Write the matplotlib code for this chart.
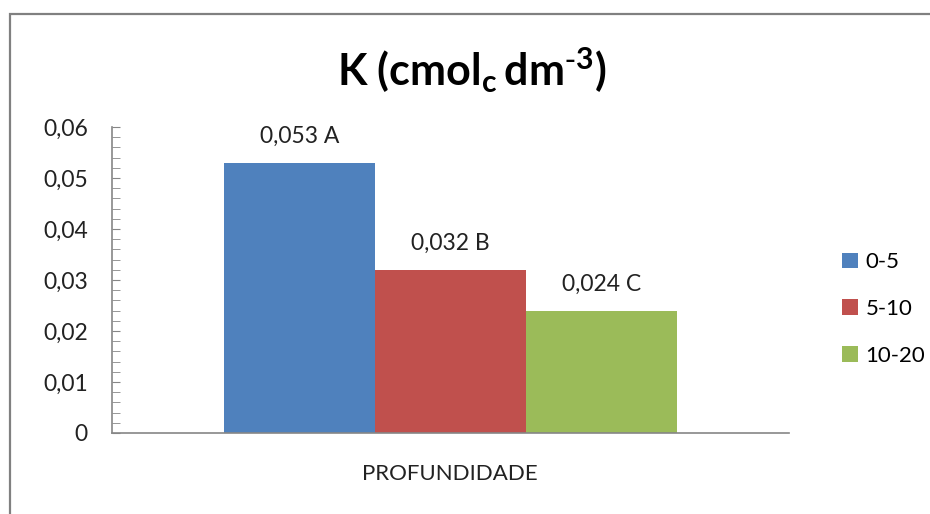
import matplotlib.pyplot as plt
from matplotlib.patches import Rectangle
from matplotlib.ticker import MultipleLocator, FuncFormatter

plt.rcParams['font.family'] = ['Lato', 'DejaVu Sans']
plt.rcParams['mathtext.default'] = 'regular'

# K por profundidade (cmolc dm-3)
series = ['0-5', '5-10', '10-20']
values = [0.053, 0.032, 0.024]
letters = ['A', 'B', 'C']
colors = ['#4F81BD', '#C0504D', '#9BBB59']
category = 'PROFUNDIDADE'

fig = plt.figure(figsize=(9.3, 5.14), dpi=100)
ax = fig.add_axes([0.1199, 0.1576, 0.7285, 0.5953])

# moldura do gráfico
fig.patches.append(Rectangle((10 / 930, -0.1), 1.2, (1 - 14 / 514) + 0.1,
                             transform=fig.transFigure, fill=False,
                             edgecolor='#808080', linewidth=1.6))

w = 0.2229
for i, (s, v, l, c) in enumerate(zip(series, values, letters, colors)):
    x = (i - 1) * w
    ax.bar(x, v, width=w, color=c, label=s)
    txt = f'{v:.3f} {l}'.replace('.', ',')
    ax.annotate(txt, (x, v), xytext=(0, 19), textcoords='offset points',
                ha='center', va='center', fontsize=16.5, color='#222222')

ax.set_xlim(-0.5, 0.5)
ax.set_ylim(0, 0.06)
ax.yaxis.set_major_locator(MultipleLocator(0.01))
ax.yaxis.set_minor_locator(MultipleLocator(0.002))
ax.yaxis.set_major_formatter(FuncFormatter(
    lambda v, p: '0' if v == 0 else f'{v:.2f}'.replace('.', ',')))
ax.tick_params(axis='y', which='both', direction='in', length=6,
               color='#868686', labelsize=16.5, pad=17, labelcolor='#222222')
ax.set_xticks([])
ax.set_xlabel(category, fontsize=16, color='#222222', labelpad=22)

for side in ['top', 'right']:
    ax.spines[side].set_visible(False)
for side in ['left', 'bottom']:
    ax.spines[side].set_color('#868686')
    ax.spines[side].set_linewidth(1.2)

fig.text(472 / 930, 1 - 70 / 514, r'K (cmol$_{c}$$\,$dm$^{\text{-}3}$)',
         ha='center', va='center', fontsize=31, fontweight='bold')

fig.legend(loc='center left', bbox_to_anchor=(822 / 930, 1 - 309 / 514),
           frameon=False, fontsize=16, handlelength=0.7, handleheight=0.7,
           handletextpad=0.35, labelspacing=1.2)

fig.savefig('out.png', dpi=100)
